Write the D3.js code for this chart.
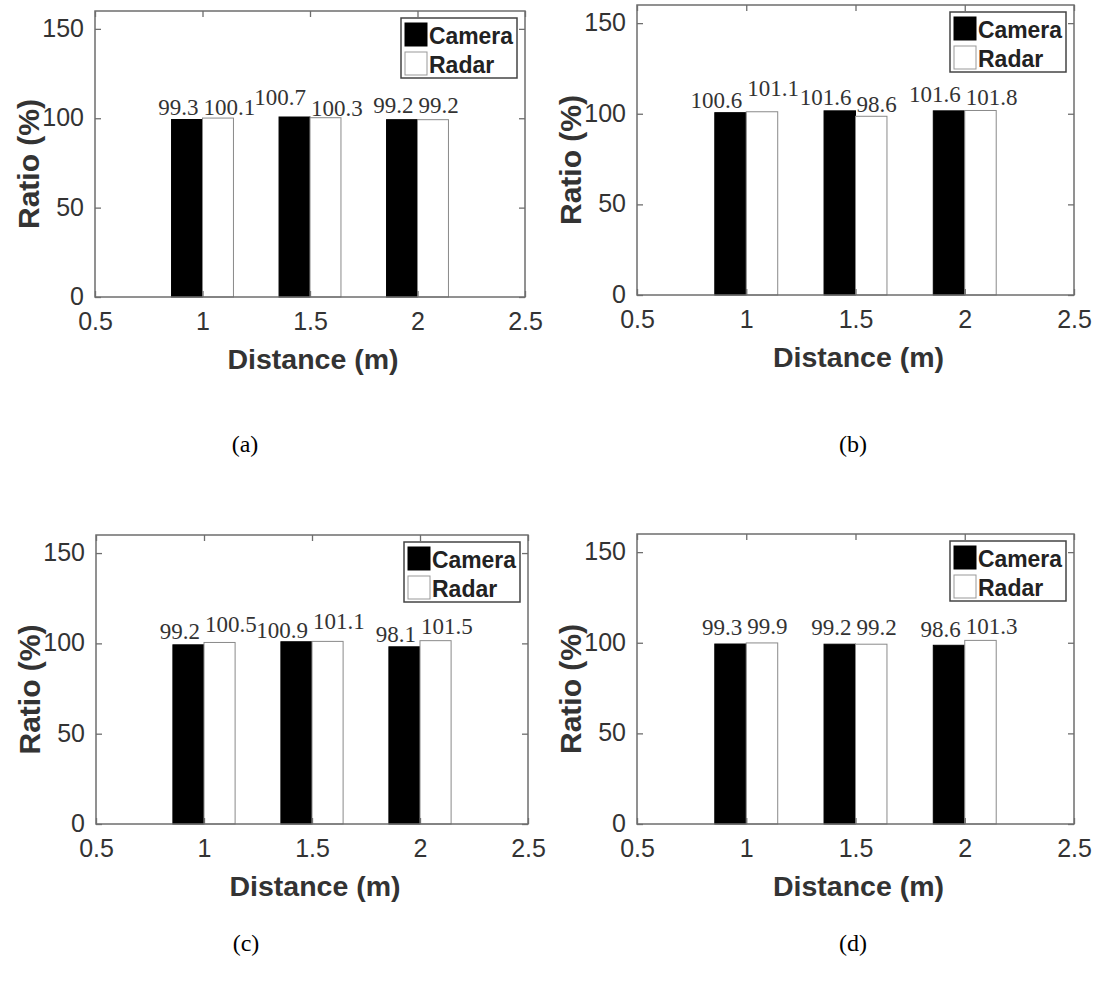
<!DOCTYPE html>
<html>
<head>
<meta charset="utf-8">
<script src="https://cdn.jsdelivr.net/npm/d3@7"></script>
<style>
  html, body { margin: 0; padding: 0; background: #fff; }
  svg { display: block; }
</style>
</head>
<body>
<svg id="chart" width="1102" height="991"></svg>
<script>
// ---------------- data ----------------
const distances = [1, 1.5, 2];
const xTickValues = [0.5, 1, 1.5, 2, 2.5];
const yTickValues = [0, 50, 100, 150];
const seriesNames = ["Camera", "Radar"];
const panelCaptions = ["(a)", "(b)", "(c)", "(d)"];
const xAxisTitle = "Distance (m)";
const yAxisTitle = "Ratio (%)";

const cameraA = [99.3, 100.7, 99.2];
const radarA  = [100.1, 100.3, 99.2];
const cameraB = [100.6, 101.6, 101.6];
const radarB  = [101.1, 98.6, 101.8];
const cameraC = [99.2, 100.9, 98.1];
const radarC  = [100.5, 101.1, 101.5];
const cameraD = [99.3, 99.2, 98.6];
const radarD  = [99.9, 99.2, 101.3];

// ---------------- layout / style (presentation only) ----------------
const panels = [
  { camera: cameraA, radar: radarA, L: 95,  R: 525,  T: 11,  B: 297, capX: 245, capY: 444,
    liftCam: [5, 12, 7], liftRad: [3, 2, 7] },
  { camera: cameraB, radar: radarB, L: 637, R: 1074, T: 5,   B: 295, capX: 853, capY: 444,
    liftCam: [5, 6, 9], liftRad: [16, 4, 5] },
  { camera: cameraC, radar: radarC, L: 96,  R: 528,  T: 535, B: 824, capX: 246, capY: 943,
    liftCam: [6, 4, 5], liftRad: [10, 12, 7] },
  { camera: cameraD, radar: radarD, L: 637, R: 1074, T: 534, B: 824, capX: 853, capY: 943,
    liftCam: [9, 9, 8], liftRad: [9, 9, 6] }
];

const axisColor = "#6e6e6e";
const textColor = "#333";
const sans = "'Liberation Sans', Arial, sans-serif";
const serif = "'Liberation Serif', 'Times New Roman', serif";

const svg = d3.select("#chart");

panels.forEach((p, i) => {
  const x = d3.scaleLinear().domain([0.5, 2.5]).range([p.L, p.R]);
  const y = d3.scaleLinear().domain([0, 160]).range([p.B, p.T]);
  const g = svg.append("g");

  const half = 0.072;     // grouped-bar offset (data units)
  const bw = 0.144;       // bar width (data units)

  const series = [
    { vals: p.camera, off: -half, fill: "#000", stroke: "#000", lift: p.liftCam, anchor: "end", dx: -4 },
    { vals: p.radar,  off: +half, fill: "#fff", stroke: "#8a8a8a", lift: p.liftRad, anchor: "start", dx: 1 }
  ];
  series.forEach(s => {
    g.selectAll(null).data(distances).enter().append("rect")
      .attr("x", (d) => x(d + s.off - bw / 2))
      .attr("width", x(bw) - x(0))
      .attr("y", (d, j) => y(s.vals[j]))
      .attr("height", (d, j) => y(0) - y(s.vals[j]))
      .attr("fill", s.fill)
      .attr("stroke", s.stroke)
      .attr("stroke-width", 1);
  });

  series.forEach(s => {
    g.selectAll(null).data(distances).enter().append("text")
      .attr("x", d => x(d) + s.dx)
      .attr("y", (d, j) => y(s.vals[j]) - s.lift[j])
      .attr("text-anchor", s.anchor)
      .attr("font-family", serif)
      .attr("font-size", 23)
      .attr("fill", textColor)
      .text((d, j) => s.vals[j].toFixed(1));
  });

  g.append("rect")
    .attr("x", p.L).attr("y", p.T)
    .attr("width", p.R - p.L).attr("height", p.B - p.T)
    .attr("fill", "none").attr("stroke", axisColor).attr("stroke-width", 1.5);

  const axB = d3.axisBottom(x).tickValues(xTickValues).tickSizeInner(-6).tickSizeOuter(0).tickPadding(17)
    .tickFormat(d3.format(""));
  const gx = g.append("g").attr("transform", `translate(0,${p.B})`).call(axB);
  gx.select(".domain").remove();
  gx.selectAll("line").attr("stroke", axisColor).attr("stroke-width", 1.3);
  gx.selectAll("text").attr("font-family", sans).attr("font-size", 25).attr("fill", textColor)
    .attr("dy", "0.62em");

  const axT = d3.axisTop(x).tickValues(xTickValues).tickSizeInner(-6).tickSizeOuter(0).tickFormat("");
  const gxt = g.append("g").attr("transform", `translate(0,${p.T})`).call(axT);
  gxt.select(".domain").remove();
  gxt.selectAll("line").attr("stroke", axisColor).attr("stroke-width", 1.3);

  const axL = d3.axisLeft(y).tickValues(yTickValues).tickSizeInner(-6).tickSizeOuter(0).tickPadding(11)
    .tickFormat(d3.format(""));
  const gy = g.append("g").attr("transform", `translate(${p.L},0)`).call(axL);
  gy.select(".domain").remove();
  gy.selectAll("line").attr("stroke", axisColor).attr("stroke-width", 1.3);
  gy.selectAll("text").attr("font-family", sans).attr("font-size", 25).attr("fill", textColor)
    .attr("dy", "0.3em");

  const axR = d3.axisRight(y).tickValues(yTickValues).tickSizeInner(-6).tickSizeOuter(0).tickFormat("");
  const gyr = g.append("g").attr("transform", `translate(${p.R},0)`).call(axR);
  gyr.select(".domain").remove();
  gyr.selectAll("line").attr("stroke", axisColor).attr("stroke-width", 1.3);

  g.append("text")
    .attr("x", (p.L + p.R) / 2 + 3)
    .attr("y", p.B + 62)
    .attr("text-anchor", "middle")
    .attr("dominant-baseline", "central")
    .attr("font-family", sans).attr("font-weight", "bold").attr("font-size", 28.5)
    .attr("fill", textColor)
    .text(xAxisTitle);

  g.append("text")
    .attr("transform", `translate(${p.L - 67},${p.T + (p.B - p.T) * 0.5 + 10}) rotate(-90)`)
    .attr("text-anchor", "middle")
    .attr("dominant-baseline", "central")
    .attr("font-family", sans).attr("font-weight", "bold").attr("font-size", 30)
    .attr("fill", textColor)
    .text(yAxisTitle);

  const lw = 116, lh = 60;
  const lx = p.R - 8 - lw, ly = p.T + 7;
  const lg = g.append("g");
  lg.append("rect").attr("x", lx).attr("y", ly).attr("width", lw).attr("height", lh)
    .attr("fill", "#fff").attr("stroke", "#444").attr("stroke-width", 1.5);
  const legendFill = ["#000", "#fff"];
  const legendStroke = ["#000", "#999"];
  seriesNames.forEach((nm, k) => {
    const cy = ly + 16.5 + k * 29;
    lg.append("rect").attr("x", lx + 4).attr("y", cy - 11.5).attr("width", 22).attr("height", 23)
      .attr("fill", legendFill[k]).attr("stroke", legendStroke[k]).attr("stroke-width", 1);
    const t = lg.append("text").attr("x", lx + 28).attr("y", cy + 1)
      .attr("dominant-baseline", "central")
      .attr("font-family", sans).attr("font-weight", "bold").attr("font-size", 23)
      .attr("fill", "#222")
      .text(nm);
    if (k === 0) t.attr("textLength", 84).attr("lengthAdjust", "spacingAndGlyphs");
  });

  svg.append("text")
    .attr("x", p.capX).attr("y", p.capY)
    .attr("text-anchor", "middle").attr("dominant-baseline", "central")
    .attr("font-family", serif).attr("font-size", 24).attr("fill", "#000")
    .text(panelCaptions[i]);
});
</script>
</body>
</html>
